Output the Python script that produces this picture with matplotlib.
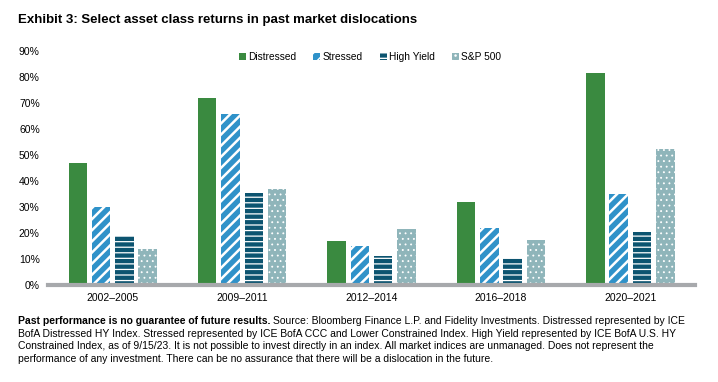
import numpy as np
import matplotlib.pyplot as plt

plt.rcParams['font.family'] = ['Liberation Sans', 'DejaVu Sans']

periods = ['2002\u20132005', '2009\u20132011', '2012\u20132014', '2016\u20132018', '2020\u20132021']
distressed = [47, 72, 17, 32, 81.5]
stressed = [30, 66, 15, 22, 35]
high_yield = [19, 35.5, 11, 10.5, 20.5]
sp500 = [14, 37, 21.7, 17.5, 52.5]

series = ['Distressed', 'Stressed', 'High Yield', 'S&P 500']
colors = ['#3a8a40', '#2f92c9', '#0c5470', '#8fb5ba']
hatches = [None, '///', '---', '...']
hatch_lw = [1.0, 1.8, 0.9, 0.6]

fig = plt.figure(figsize=(7.18, 3.82), dpi=100)
ax = fig.add_axes([0.067, 0.254, 0.901, 0.612])

x = np.arange(len(periods))
w = 0.143
step = 0.18
for i, vals in enumerate([distressed, stressed, high_yield, sp500]):
    with plt.rc_context({'hatch.linewidth': hatch_lw[i]}):
        ax.bar(x + (i - 1.5) * step, vals, w, color=colors[i], hatch=hatches[i],
               edgecolor='white', linewidth=0, label=series[i], zorder=2)

ax.set_xlim(-0.5, len(periods) - 0.5)
ax.set_ylim(0, 90)
ax.set_yticks(np.arange(0, 91, 10))
ax.set_yticklabels([f'{v}%' for v in range(0, 91, 10)], fontsize=7.5)
ax.set_xticks(x)
ax.set_xticklabels(periods, fontsize=7.5)
ax.tick_params(axis='y', length=0, pad=6)
ax.tick_params(axis='x', length=0, pad=6)
for s in ['top', 'right', 'left']:
    ax.spines[s].set_visible(False)
ax.spines['bottom'].set_color('#a7a9ac')
ax.spines['bottom'].set_linewidth(3)
ax.spines['bottom'].set_zorder(3)

fig.legend(loc='center', bbox_to_anchor=(0.515, 0.851), ncol=4, frameon=False,
           fontsize=7.3, handlelength=0.7, handleheight=0.7, handletextpad=0.2,
           columnspacing=1.7)

fig.text(0.025, 0.947, 'Exhibit 3: Select asset class returns in past market dislocations',
         fontsize=9.5, fontweight='bold', va='center')

bold = fig.text(0.025, 0.16, 'Past performance is no guarantee of future results.',
                fontsize=7.5, fontweight='bold', va='center')
r = fig.canvas.get_renderer()
bb = bold.get_window_extent(r)
fig.text(bb.x1 / fig.bbox.width + 0.004, 0.16,
         'Source: Bloomberg Finance L.P. and Fidelity Investments. Distressed represented by ICE',
         fontsize=7.5, va='center')
rest = ['BofA Distressed HY Index. Stressed represented by ICE BofA CCC and Lower Constrained Index. High Yield represented by ICE BofA U.S. HY',
        'Constrained Index, as of 9/15/23. It is not possible to invest directly in an index. All market indices are unmanaged. Does not represent the',
        'performance of any investment. There can be no assurance that there will be a dislocation in the future.']
for k, line in enumerate(rest):
    fig.text(0.025, 0.16 - (k + 1) * 0.0335, line, fontsize=7.5, va='center')

fig.savefig('out.png', dpi=100)
